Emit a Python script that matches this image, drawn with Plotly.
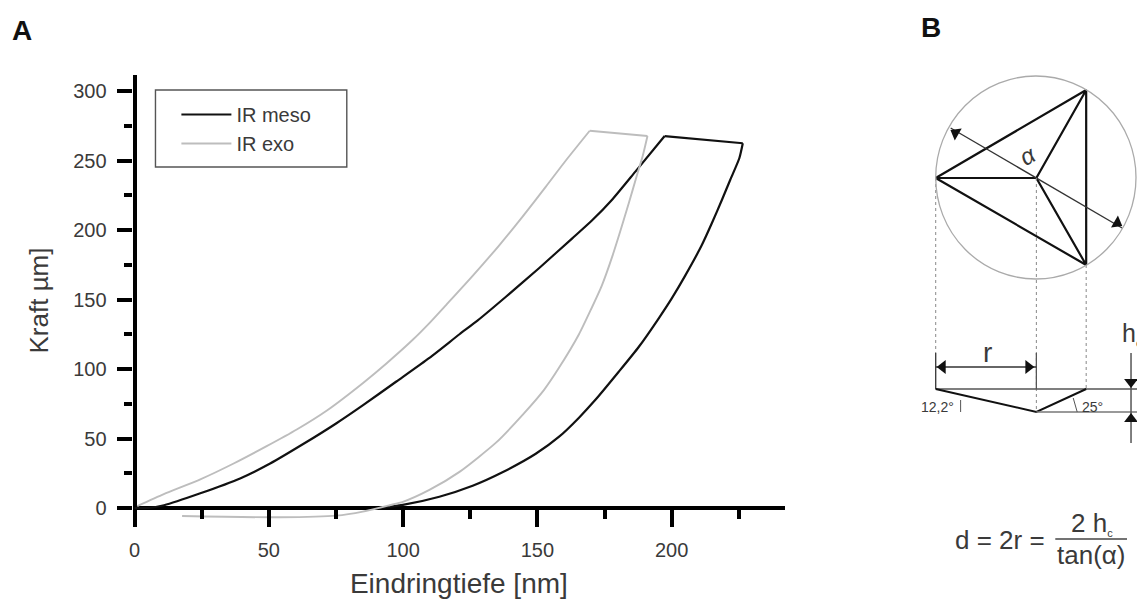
import plotly.graph_objects as go

W, H = 1137, 599
# data values
meso_load_x = [0, 5, 11, 24.5, 39.3, 50.5, 62.8, 75.2, 85.1, 97.5, 109.8, 121, 127.8, 138.3, 150.6, 163, 170.4, 177.9, 186.5, 197.4]
meso_load_y = [0, 0, 2, 10.6, 21.3, 32, 46, 61, 74, 91, 108, 125, 135, 152, 172.5, 194, 207, 222, 242, 267.6]
meso_hold_x = [197.4, 226.5]
meso_hold_y = [267.6, 262.4]
meso_unload_x = [226.5, 225.2, 221.8, 218.7, 215, 211.2, 205, 200.1, 195.2, 187.8, 180.3, 171.7, 165.5, 158.1, 149.4, 137, 125.9, 113.5, 99.9, 91.3]
meso_unload_y = [262.4, 251.6, 236, 221.6, 205, 189, 167, 151, 136.5, 116, 98, 78, 65, 51.3, 39, 25.7, 16, 8.1, 2.2, 0]
exo_load_x = [1, 10.9, 24.5, 36.9, 49.2, 60.4, 71.5, 85.1, 93.8, 103.6, 109.8, 116, 125.9, 135.8, 144.5, 153.1, 160.6, 169.5]
exo_load_y = [1.4, 10, 20.6, 32, 44.5, 56.5, 70, 90, 104, 121, 133, 146, 167, 189, 209.6, 231, 250, 271.4]
exo_hold_x = [169.5, 191]
exo_hold_y = [271.4, 267.6]
exo_unload_x = [191, 189.2, 187.1, 184, 177.9, 174, 170, 165.5, 158.1, 152.5, 144.5, 134.6, 121, 109.8, 99.9, 95, 85, 75.2, 54, 17.7]
exo_unload_y = [267.6, 253, 239.6, 219, 181, 160, 143, 125, 101, 85, 67, 47, 26, 13, 4.4, 2, -2.6, -5.5, -6.7, -5.8]
x_major = [0, 50, 100, 150, 200]
x_minor = [25, 75, 125, 175, 225]
y_major = [0, 50, 100, 150, 200, 250, 300]
y_minor = [25, 75, 125, 175, 225, 275]

L, R, T, B = 129, 784, 75, 526
x0_px, y0_px = 131, 508
x_scale = (673 - 134) / 200
y_scale = (508 - 91) / 300
FONT = "Liberation Sans"
TXT = "#3a3a3a"
MESO = dict(color="#111111", width=2.2)
EXO = dict(color="#bdbdbd", width=1.9)

fig = go.Figure()


def curve(xs, ys, style, name, legend, smooth):
    line = dict(style, shape="spline", smoothing=0.6) if smooth else style
    fig.add_trace(go.Scatter(x=xs, y=ys, mode="lines", name=name, legendgroup=name, showlegend=legend, line=line))


curve(meso_load_x, meso_load_y, MESO, "IR meso", True, True)
curve(meso_hold_x, meso_hold_y, MESO, "IR meso", False, False)
curve(meso_unload_x, meso_unload_y, MESO, "IR meso", False, True)
curve(exo_load_x, exo_load_y, EXO, "IR exo", True, True)
curve(exo_hold_x, exo_hold_y, EXO, "IR exo", False, False)
curve(exo_unload_x, exo_unload_y, EXO, "IR exo", False, True)


def seg(xs, ys, color="#111111", width=2, dash=None):
    fig.add_trace(go.Scatter(x=xs, y=ys, mode="lines", xaxis="x2", yaxis="y2", showlegend=False, hoverinfo="skip",
                             line=dict(color=color, width=width, dash=dash)))


seg([935, 1086, 1086, 935, 1036, 1086, 1036, 1086], [178, 90, 265, 178, 178, 90, 178, 265], width=2.2)
seg([950, 1122], [128, 228], color="#333333", width=1.3)
for x_, y0, y1 in [(935, 178, 353), (1036, 178, 412), (1086, 265, 389)]:
    seg([x_, x_], [y0, y1], color="#888888", width=1, dash="dot")
seg([935, 935], [353, 389], color="#333333", width=1.3)
seg([1036, 1036], [353, 389], color="#555555", width=1.3)
seg([935, 1036], [367, 367], color="#333333", width=1.3)
seg([935, 1137], [389, 389], color="#555555", width=1.4)
seg([935, 1036, 1086], [389, 412, 389], width=2)
seg([1036, 1137], [412, 412], color="#777777", width=1.3)
seg([1131, 1131], [353, 443], color="#555555", width=1.5)
seg([960, 960], [400, 412], color="#555555", width=1)
seg([1073, 1075, 1077], [398, 405, 412], color="#555555", width=1)
seg([1055, 1127], [539, 539], color="#444444", width=1.3)


def head(x_, y_, angle):
    fig.add_trace(go.Scatter(x=[x_], y=[y_], mode="markers", xaxis="x2", yaxis="y2", showlegend=False, hoverinfo="skip",
                             marker=dict(symbol="triangle-up", size=12, color="#111111", angle=angle, line=dict(width=0))))


head(955, 133, -60)
head(1117, 223, 120)
head(942, 367, -90)
head(1028, 367, 90)
head(1131, 382, 180)
head(1131, 419, 0)

shapes = [
    dict(type="circle", xref="x2", yref="y2", x0=935, x1=1136, y0=76, y1=279, line=dict(color="#aaaaaa", width=1.3)),
    dict(type="rect", xref="x2", yref="y2", x0=152, x1=344, y0=90, y1=167, line=dict(color="#555555", width=1.4)),
]


def t(x_, y_, s, size=15, color=TXT, anchor="center", angle=0):
    return dict(x=x_, y=y_, xref="x2", yref="y2", text=s, showarrow=False, xanchor=anchor, yanchor="middle",
                font=dict(size=size, color=color, family=FONT), textangle=angle)


SUB_C = '<sub><span style="font-size:11px">c</span></sub>'
anns = [
    t(18, 30, "<b>A</b>", 28, "#111111"),
    t(930, 27, "<b>B</b>", 28, "#111111"),
    t(1027, 155, "<i>α</i>", 24, angle=-30),
    t(987, 352, "r", 28),
    t(1120, 334, "h" + SUB_C, 25, anchor="left"),
    t(937, 407, "12,2°", 14),
    t(1080, 407, "25°", 14, anchor="left"),
    t(1047, 540, "d = 2r =", 26, anchor="right"),
    t(1092, 523, "2 h" + SUB_C, 26),
    t(1091, 555, "tan(α)", 26),
]

fig.update_layout(
    width=W, height=H, autosize=False, margin=dict(l=0, r=0, t=0, b=0, pad=0), paper_bgcolor="white", plot_bgcolor="rgba(0,0,0,0)",
    font=dict(family=FONT, color=TXT),
    shapes=shapes, annotations=anns,
    legend=dict(x=173 / W, y=1 - 95 / H, xanchor="left", yanchor="top", bgcolor="rgba(0,0,0,0)", itemwidth=50,
                font=dict(size=20, color=TXT), tracegroupgap=0),
    xaxis=dict(domain=[L / W, R / W], range=[(L - x0_px) / x_scale, (R - x0_px) / x_scale], anchor="free", position=1 - y0_px / H,
               showgrid=False, zeroline=True, zerolinecolor="#000000", zerolinewidth=4,
               showline=False, ticks="outside", tickcolor="#000000", tickwidth=4, ticklen=18,
               tickvals=x_major,
               minor=dict(tickvals=x_minor, ticks="outside", ticklen=10, tickwidth=4, tickcolor="#000000"),
               tickfont=dict(size=20, color=TXT), ticklabelstandoff=6,
               title=dict(text="Eindringtiefe [nm]", font=dict(size=28, color=TXT), standoff=13)),
    yaxis=dict(domain=[1 - B / H, 1 - T / H], range=[(y0_px - B) / y_scale, (y0_px - T) / y_scale],
               showgrid=False, zeroline=True, zerolinecolor="#000000", zerolinewidth=4,
               showline=False, ticks="outside", tickcolor="#000000", tickwidth=4, ticklen=15,
               tickvals=y_major,
               minor=dict(tickvals=y_minor, ticks="outside", ticklen=8, tickwidth=4, tickcolor="#000000"),
               tickfont=dict(size=20, color=TXT), ticklabelstandoff=6,
               title=dict(text="Kraft µm]", font=dict(size=26, color=TXT), standoff=17)),
    xaxis2=dict(domain=[0, 1], range=[0, W], visible=False, anchor="y2"),
    yaxis2=dict(domain=[0, 1], range=[H, 0], visible=False, anchor="x2"),
)
fig.write_html("out.html", post_script="document.body.style.margin='0';", config={"displayModeBar": False})
